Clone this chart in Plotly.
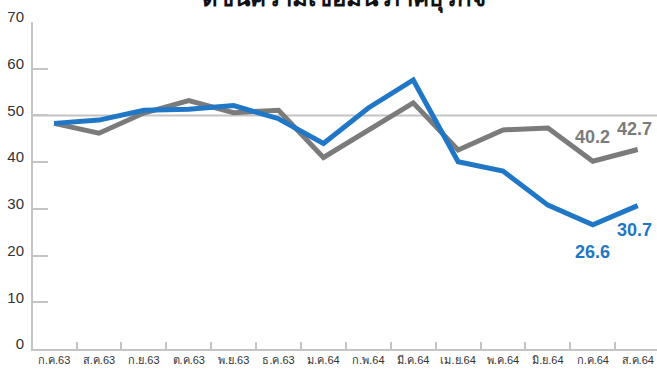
import plotly.graph_objects as go

months = ["ก.ค.63", "ส.ค.63", "ก.ย.63", "ต.ค.63", "พ.ย.63", "ธ.ค.63", "ม.ค.64",
          "ก.พ.64", "มี.ค.64", "เม.ย.64", "พ.ค.64", "มิ.ย.64", "ก.ค.64", "ส.ค.64"]
gray_vals = [48.3, 46.2, 50.5, 53.2, 50.6, 51.1, 41.0, 46.9, 52.7, 42.6, 46.9, 47.3, 40.2, 42.7]
blue_vals = [48.3, 49.0, 51.1, 51.3, 52.1, 49.3, 44.0, 51.6, 57.6, 40.1, 38.1, 30.8, 26.6, 30.7]
y_ticks = [0, 10, 20, 30, 40, 50, 60, 70]
title_text = "ดัชนีความเชื่อมั่น ภาคธุรกิจ"

GRAY = "#7b7b7b"
BLUE = "#1f77c6"
AXIS = "#c4c4c4"

fig = go.Figure()
fig.add_trace(go.Scatter(x=months, y=gray_vals, mode="lines",
                         line=dict(color=GRAY, width=5), hoverinfo="skip"))
fig.add_trace(go.Scatter(x=months, y=blue_vals, mode="lines",
                         line=dict(color=BLUE, width=5), hoverinfo="skip"))

fig.add_hline(y=50, line=dict(color=AXIS, width=2), layer="below")

lab_font = dict(family="Liberation Sans, Arial", size=18)
# value labels
fig.add_annotation(x=months[12], y=gray_vals[12], text=f"<b>{gray_vals[12]:.1f}</b>", showarrow=False,
                   yshift=24, font=dict(color=GRAY, **lab_font))
fig.add_annotation(x=months[13], y=gray_vals[13], text=f"<b>{gray_vals[13]:.1f}</b>", showarrow=False,
                   yshift=21, xshift=-3, font=dict(color=GRAY, **lab_font))
fig.add_annotation(x=months[12], y=blue_vals[12], text=f"<b>{blue_vals[12]:.1f}</b>", showarrow=False,
                   yshift=-27, font=dict(color=BLUE, **lab_font))
fig.add_annotation(x=months[13], y=blue_vals[13], text=f"<b>{blue_vals[13]:.1f}</b>", showarrow=False,
                   yshift=-24, xshift=-3, font=dict(color=BLUE, **lab_font))

# title (cut off at the top edge, as in the reference)
fig.add_annotation(xref="paper", yref="paper", x=0.498, y=1 + 6 / 327, yanchor="bottom",
                   text=f"<b>{title_text}</b>", showarrow=False,
                   font=dict(family="Noto Sans, Liberation Sans", size=24, color="#111"))

fig.update_layout(
    width=657, height=371,
    margin=dict(l=33, r=0, t=22, b=22, autoexpand=False),
    paper_bgcolor="white", plot_bgcolor="white",
    showlegend=False,
    font=dict(family="Liberation Sans, Arial", color="#333"),
)
fig.update_xaxes(
    type="category", range=[-0.47, 13.43], automargin=False,
    showline=True, linecolor=AXIS, linewidth=2,
    ticks="inside", ticklen=7, tickcolor=AXIS, tickwidth=1.5,
    tickson="boundaries", showgrid=False, tickangle=0,
    tickfont=dict(size=11, color="#333"),
)
fig.update_yaxes(
    range=[0, 70], tickvals=y_ticks, automargin=False,
    showline=True, linecolor=AXIS, linewidth=2,
    ticks="inside", ticklen=15, tickcolor=AXIS, tickwidth=1.5,
    showgrid=False, zeroline=False,
    tickfont=dict(size=15, color="#333"),
    ticklabelshift=-5, ticklabelstandoff=4,
)

# remove the default page margin so the 657x371 figure fills the window exactly
fig.write_html("out.html", config={"displayModeBar": False},
               post_script="document.body.style.margin='0';")
